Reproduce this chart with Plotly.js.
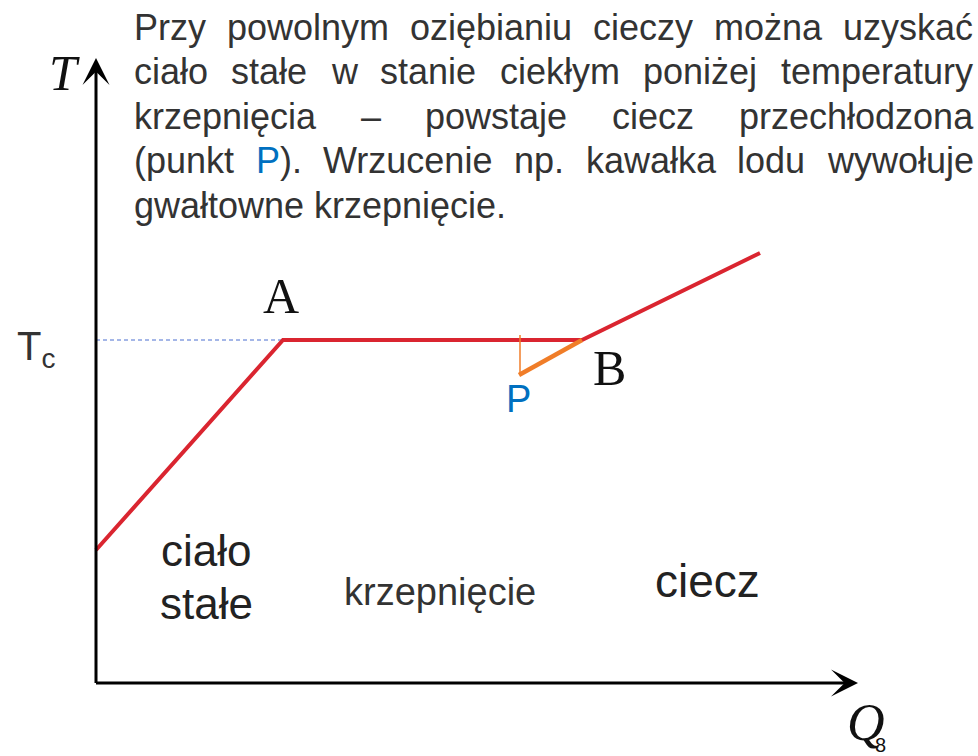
<!DOCTYPE html>
<html>
<head>
<meta charset="utf-8">
<script src="https://cdn.plot.ly/plotly-3.0.1.min.js"></script>
<style>
  html, body { margin: 0; padding: 0; background: #ffffff; }
  #chart { width: 978px; height: 756px; }
</style>
</head>
<body>
<div id="chart"></div>
<script>
// Heating / cooling curve: temperature T versus heat Q
const curveQ = [0, 18.7, 48.6, 66.4];        // start, A, B, end of liquid branch
const curveT = [13.3, 34.3, 34.3, 43.0];
const Tc = 34.3;                              // solidification temperature
const supercoolQ = [48.6, 42.3];              // B -> P (supercooled liquid)
const supercoolT = [34.3, 30.8];
const dropQ = [42.4, 42.4];                   // sudden solidification from P
const dropT = [34.8, 30.8];
const axisTipQ = 76.2;
const axisTipT = 62.5;

const solidLabel = ["ciało", "stałe"];
const regionLabels = ["krzepnięcie", "ciecz"];
const pointLabels = ["A", "B", "P"];

const paragraphLines = [
  "Przy powolnym oziębianiu cieczy można uzyskać",
  "ciało stałe w stanie ciekłym poniżej temperatury",
  "krzepnięcia – powstaje ciecz przechłodzona",
  "(punkt P). Wrzucenie np. kawałka lodu wywołuje",
  "gwałtowne krzepnięcie."
];

const W = 978, H = 756;
const sans = "Liberation Sans, Arial, sans-serif";
const serif = "Liberation Serif, Times New Roman, serif";
const textGray = "#333333";
const labelDark = "#222222";
const blue = "#0070c0";

// pixel <-> data: origin of the axes at (96, 683), 10 px per unit
const xRange = [-96 / 10, (W - 96) / 10];
const yRange = [(683 - H) / 10, 683 / 10];

const traces = [
  { x: [0, curveQ[1]], y: [Tc, Tc], mode: "lines",
    line: { color: "#4a6fd0", width: 1, dash: "4px,3px" }, hoverinfo: "skip" },
  { x: curveQ, y: curveT, mode: "lines",
    line: { color: "#da2530", width: 4 }, hoverinfo: "skip" },
  { x: dropQ, y: dropT, mode: "lines",
    line: { color: "#f07d28", width: 1.5 }, hoverinfo: "skip" },
  { x: supercoolQ, y: supercoolT, mode: "lines",
    line: { color: "#f07d28", width: 4.5 }, hoverinfo: "skip" }
];

const annotations = [];

// axes drawn as arrows
annotations.push({ x: 0, y: axisTipT, ax: 0, ay: -0.15, xref: "x", yref: "y", axref: "x", ayref: "y",
  text: "", showarrow: true, arrowhead: 3, arrowsize: 1.5, arrowwidth: 3, arrowcolor: "#000" });
annotations.push({ x: axisTipQ, y: 0, ax: -0.15, ay: 0, xref: "x", yref: "y", axref: "x", ayref: "y",
  text: "", showarrow: true, arrowhead: 3, arrowsize: 1.5, arrowwidth: 3, arrowcolor: "#000" });

function label(x, y, text, font, extra) {
  annotations.push(Object.assign({ x: x, y: y, xref: "x", yref: "y", text: text,
    showarrow: false, font: font, xanchor: "center", yanchor: "middle", borderpad: 0 }, extra || {}));
}

// axis names
label(-3.2, 61.0, "<i>T</i>", { family: serif, size: 50, color: "#111" });
label(77.0, -3.9, "<i>Q</i>", { family: serif, size: 52, color: "#111" });
label(78.4, -6.2, "8", { family: sans, size: 20, color: "#111" });
label(-6.0, 33.4, "T<sub>c</sub>", { family: sans, size: 40, color: textGray });

// point labels
label(18.5, 38.7, pointLabels[0], { family: serif, size: 50, color: "#111" });
label(51.3, 31.5, pointLabels[1], { family: serif, size: 50, color: "#111" });
label(42.2, 28.4, pointLabels[2], { family: sans, size: 38, color: blue });

// region labels
label(11.0, 13.3, solidLabel[0], { family: sans, size: 44, color: labelDark });
label(11.0, 8.0, solidLabel[1], { family: sans, size: 44, color: labelDark });
label(34.4, 9.1, regionLabels[0], { family: sans, size: 38, color: textGray });
label(61.1, 10.2, regionLabels[1], { family: sans, size: 46, color: labelDark });

// justified paragraph at the top
const paraFont = 36;
const paraLeft = 133, paraRight = 972, baseline0 = 40, lineStep = 44.5;
const canvas = document.createElement("canvas");
const ctx = canvas.getContext("2d");
ctx.font = paraFont + "px 'Liberation Sans'";

paragraphLines.forEach(function (line, i) {
  const words = line.split(" ");
  const widths = words.map(function (w) { return ctx.measureText(w).width; });
  const total = widths.reduce(function (a, b) { return a + b; }, 0);
  const last = i === paragraphLines.length - 1;
  const gap = last ? ctx.measureText(" ").width : (paraRight - paraLeft - total) / (words.length - 1);
  const yMid = baseline0 + i * lineStep - 0.35 * paraFont;
  let x = paraLeft;
  words.forEach(function (w, k) {
    let txt = w;
    if (w === "P).") txt = '<span style="color:' + blue + '">P</span>).';
    annotations.push({ x: x / W, y: 1 - yMid / H, xref: "paper", yref: "paper", text: txt,
      showarrow: false, xanchor: "left", yanchor: "middle", borderpad: 0,
      font: { family: sans, size: paraFont, color: textGray } });
    x += widths[k] + gap;
  });
});

const layout = {
  width: W, height: H,
  margin: { l: 0, r: 0, t: 0, b: 0, pad: 0 },
  paper_bgcolor: "#ffffff", plot_bgcolor: "#ffffff",
  showlegend: false,
  xaxis: { range: xRange, visible: false, fixedrange: true },
  yaxis: { range: yRange, visible: false, fixedrange: true },
  annotations: annotations
};

Plotly.newPlot("chart", traces, layout, { displayModeBar: false, staticPlot: true });
</script>
</body>
</html>
